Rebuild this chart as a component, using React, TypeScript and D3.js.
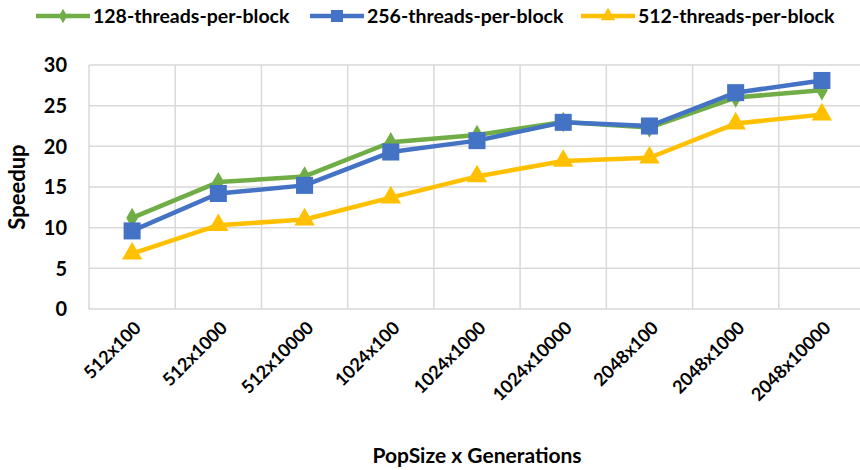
import { useEffect, useRef } from 'react';
import * as d3 from 'd3';

const categories = ['512x100', '512x1000', '512x10000', '1024x100', '1024x1000', '1024x10000', '2048x100', '2048x1000', '2048x10000'];
const t128 = [11.2, 15.6, 16.3, 20.5, 21.4, 23.0, 22.3, 26.0, 26.9];
const t256 = [9.6, 14.2, 15.2, 19.3, 20.7, 22.95, 22.5, 26.6, 28.1];
const t512 = [6.8, 10.3, 11.0, 13.7, 16.3, 18.2, 18.6, 22.8, 23.9];
const yTicks = [0, 5, 10, 15, 20, 25, 30];

const series = [
  { name: '128-threads-per-block', values: t128, color: '#70AD47', symbol: d3.symbolDiamond, size: 120 },
  { name: '256-threads-per-block', values: t256, color: '#4472C4', symbol: d3.symbolSquare, size: 290 },
  { name: '512-threads-per-block', values: t512, color: '#FFC000', symbol: d3.symbolTriangle, size: 180 },
];

const W = 860;
const H = 470;
const FONT = 'Lato, "Open Sans", sans-serif';

export default function App() {
  const svgRef = useRef<SVGSVGElement>(null);

  useEffect(() => {
    if (!svgRef.current) return;
    const svg = d3.select(svgRef.current);
    svg.selectAll('*').remove();

    const margin = { top: 65, right: -5, bottom: 161, left: 89 };
    const x = d3.scaleBand().domain(categories).range([margin.left, W - margin.right]);
    const y = d3.scaleLinear().domain([0, 30]).range([H - margin.bottom, margin.top]);

    // gridlines
    const grid = svg.append('g');
    grid.selectAll('.hg').data(yTicks).enter().append('line')
      .attr('x1', margin.left).attr('x2', W - margin.right)
      .attr('y1', d => y(d)).attr('y2', d => y(d))
      .attr('stroke', '#D9D9D9').attr('stroke-width', 1.5);
    grid.selectAll('.vg').data([...categories, null]).enter().append('line')
      .attr('x1', (d, i) => margin.left + i * x.bandwidth())
      .attr('x2', (d, i) => margin.left + i * x.bandwidth())
      .attr('y1', y(0)).attr('y2', y(30))
      .attr('stroke', '#D9D9D9').attr('stroke-width', 1.5);

    // y tick labels
    svg.append('g').selectAll('text').data(yTicks).enter().append('text')
      .attr('x', 67).attr('y', d => y(d)).attr('dy', '0.36em')
      .attr('text-anchor', 'end')
      .style('font', `bold 20px ${FONT}`).attr('fill', '#000')
      .text(d => d);

    // x tick labels
    svg.append('g').selectAll('text').data(categories).enter().append('text')
      .attr('transform', d => `translate(${(x(d) || 0) + x.bandwidth() / 2 + 10},${y(0) + 20}) rotate(-45)`)
      .attr('text-anchor', 'end')
      .style('font', `bold 18px ${FONT}`).attr('fill', '#000')
      .text(d => d);

    // axis titles
    svg.append('text')
      .attr('transform', `translate(25,${(y(0) + y(30)) / 2}) rotate(-90)`)
      .attr('text-anchor', 'middle')
      .style('font', `bold 22px ${FONT}`).attr('fill', '#000')
      .text('Speedup');
    svg.append('text')
      .attr('x', (margin.left + W - margin.right) / 2).attr('y', 463)
      .attr('text-anchor', 'middle')
      .style('font', `bold 21px ${FONT}`).attr('fill', '#000')
      .text('PopSize x Generations');

    const cx = (i: number) => (x(categories[i]) || 0) + x.bandwidth() / 2;
    const line = d3.line<number>().x((d, i) => cx(i)).y(d => y(d));

    series.forEach(s => {
      svg.append('path').datum(s.values)
        .attr('d', line).attr('fill', 'none')
        .attr('stroke', s.color).attr('stroke-width', 4.5).attr('stroke-linejoin', 'round');
      svg.append('g').selectAll('path').data(s.values).enter().append('path')
        .attr('d', d3.symbol().type(s.symbol).size(s.size)())
        .attr('transform', (d, i) => `translate(${cx(i)},${y(d)})`)
        .attr('fill', s.color);
    });

    // legend
    const legendX = [36, 310, 581];
    const leg = svg.append('g');
    series.forEach((s, i) => {
      const g = leg.append('g').attr('transform', `translate(${legendX[i]},16)`);
      g.append('line').attr('x1', 0).attr('x2', 54).attr('y1', 0).attr('y2', 0)
        .attr('stroke', s.color).attr('stroke-width', 4.5);
      g.append('path').attr('d', d3.symbol().type(s.symbol).size(s.size * 0.5)())
        .attr('transform', 'translate(27,0)').attr('fill', s.color);
      g.append('text').attr('x', 57).attr('y', 0).attr('dy', '0.36em')
        .style('font', `bold 19.5px ${FONT}`).attr('fill', '#000')
        .text(s.name);
    });
  }, []);

  return <svg ref={svgRef} width={W} height={H} style={{ display: 'block', position: 'absolute', left: 0, top: 0, background: '#fff' }} />;
}
